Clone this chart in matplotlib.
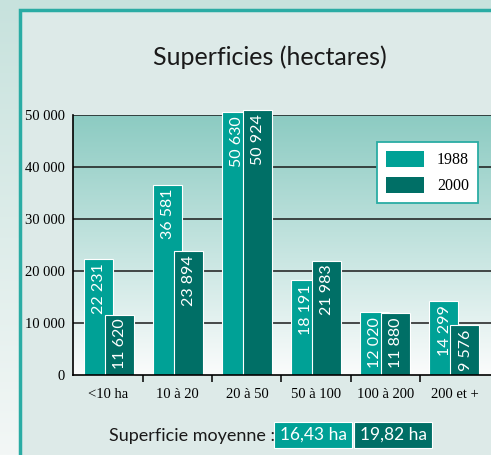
import numpy as np
import matplotlib
matplotlib.use("Agg")
import matplotlib.pyplot as plt
from matplotlib.patches import Rectangle
from matplotlib.colors import LinearSegmentedColormap

categories = ["<10 ha", "10 à 20", "20 à 50", "50 à 100", "100 à 200", "200 et +"]
surf_1988 = [22231, 36581, 50630, 18191, 12020, 14299]
surf_2000 = [11620, 23894, 50924, 21983, 11880, 9576]
years = ["1988", "2000"]
moyenne = ["16,43 ha", "19,82 ha"]

c1988 = "#00a196"
c2000 = "#006f66"
teal_border = "#2aaca4"

W, H = 491, 455
fig = plt.figure(figsize=(W / 100, H / 100), dpi=100)

# page background (vertical gradient) + framed panel
bg = fig.add_axes([0, 0, 1, 1], zorder=-10)
bg.axis("off")
grad = LinearSegmentedColormap.from_list("bg", ["#f3f7f6", "#c7e2dd"])
bg.imshow(np.linspace(0, 1, 256).reshape(-1, 1), cmap=grad, aspect="auto",
          origin="lower", extent=[0, 1, 0, 1])
bg.set_xlim(0, 1)
bg.set_ylim(0, 1)
bg.add_patch(Rectangle((19.5 / W, -0.1), 1, 1 - 9.5 / H + 0.1,
                       facecolor="#ddeae8", edgecolor=teal_border, lw=2.5))

ax = fig.add_axes([73 / W, 80 / H, (W - 73) / W + 0.01, 260 / H])
x = np.arange(len(categories))
ax.set_xlim(-0.514, 5.6)
ax.set_ylim(0, 50000)

# gradient inside plot area
agrad = LinearSegmentedColormap.from_list("ag", ["#fbfcfc", "#8ccbc2"])
ax.imshow(np.linspace(0, 1, 256).reshape(-1, 1), cmap=agrad, aspect="auto",
          origin="lower", extent=[-0.514, 5.6, 0, 50000], zorder=0)

for yv in range(10000, 50001, 10000):
    ax.axhline(yv, color="#1a1a1a", lw=1.1, zorder=1)

w = 0.42
b1 = ax.bar(x - 0.152, surf_1988, w, color=c1988, edgecolor="white", lw=0.8,
            zorder=2, clip_on=False, label=years[0])
b2 = ax.bar(x + 0.152, surf_2000, w, color=c2000, edgecolor="white", lw=0.8,
            zorder=3, clip_on=False, label=years[1])

def fmt(v):
    return f"{v:,}".replace(",", " ")

for bars, vals, z in [(b1, surf_1988, 4), (b2, surf_2000, 5)]:
    for rect, v in zip(bars, vals):
        ax.annotate(fmt(v), (rect.get_x() + rect.get_width() / 2, v),
                    xytext=(0.5, -3), textcoords="offset points",
                    rotation=90, ha="center", va="top", color="white",
                    fontsize=11.5, family="Lato",
                    zorder=z, annotation_clip=False)

ax.set_yticks(range(0, 50001, 10000))
ax.set_yticklabels([fmt(v) for v in range(0, 50001, 10000)],
                   family="Liberation Serif", fontsize=10.5)
ax.tick_params(axis="y", length=0, pad=6)
ax.set_xticks(x)
ax.set_xticklabels(categories, family="Liberation Serif", fontsize=10.5)
ax.set_xticks(x[:-1] + 0.5, minor=True)
ax.tick_params(axis="x", which="major", length=0, pad=9)
ax.tick_params(axis="x", which="minor", length=5, width=1.1, direction="out")

for s in ["top", "right"]:
    ax.spines[s].set_visible(False)
for s in ["left", "bottom"]:
    ax.spines[s].set_linewidth(1.2)
    ax.spines[s].set_zorder(6)

leg = ax.legend(handles=[b1, b2], loc="upper left",
                bbox_to_anchor=(377 / W, 1 - 142 / H),
                bbox_transform=fig.transFigure, borderaxespad=0,
                prop={"family": "Liberation Serif", "size": 11.5},
                handlelength=2.4, handleheight=1.15, handletextpad=0.8,
                labelspacing=0.55, borderpad=0.55, fancybox=False,
                framealpha=1, facecolor="white", edgecolor=teal_border)
leg.get_frame().set_linewidth(1.3)
for h in leg.legend_handles:
    h.set_edgecolor("none")

fig.text(270 / W, 1 - 57 / H, "Superficies (hectares)", ha="center",
         va="center", fontsize=18, family="Lato", color="#1a1a1a")

fig.text(275 / W, 1 - 436 / H, "Superficie moyenne :", ha="right",
         va="center", fontsize=13, family="Lato", color="#1a1a1a")
fig.text(313 / W, 1 - 435 / H, moyenne[0], ha="center", va="center",
         fontsize=12.5, family="Lato", color="white",
         bbox=dict(boxstyle="square,pad=0.3", fc=c1988, ec="white", lw=0.8))
fig.text(393 / W, 1 - 435 / H, moyenne[1], ha="center", va="center",
         fontsize=12.5, family="Lato", color="white",
         bbox=dict(boxstyle="square,pad=0.3", fc=c2000, ec="white", lw=0.8))

fig.savefig("out.png", dpi=100)
